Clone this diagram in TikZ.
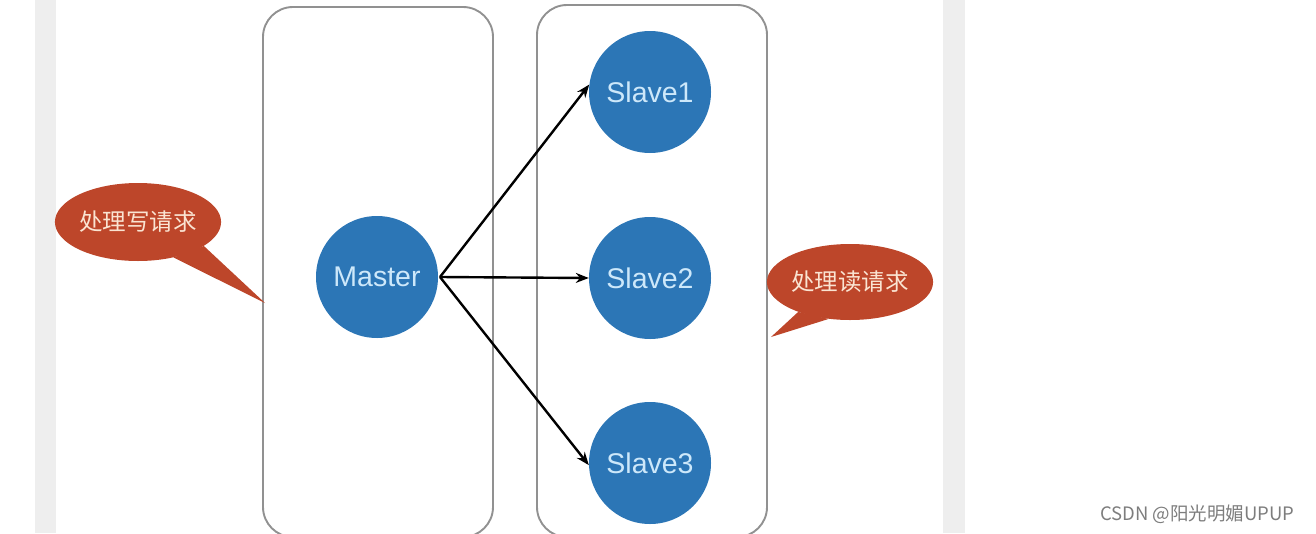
\documentclass[tikz,border=0pt]{standalone}
\usepackage{fontspec}
\setmainfont{Liberation Sans}
\newfontfamily\cjk{Noto Sans CJK SC}
\usetikzlibrary{shapes.geometric,arrows.meta}
\definecolor{nodeblue}{RGB}{44,118,182}
\definecolor{nodetext}{RGB}{205,232,250}
\definecolor{bubred}{RGB}{189,70,42}
\definecolor{bubtext}{RGB}{250,228,210}
\definecolor{bandgray}{RGB}{238,238,238}
\definecolor{boxgray}{RGB}{145,145,145}
\definecolor{markgray}{RGB}{125,125,125}
\tikzset{
  panel/.style={draw=boxgray, line width=1.9pt, rounded corners=30pt, fill=none},
  ball/.style={circle, fill=nodeblue, text=nodetext, minimum size=122pt, inner sep=0pt,
    font=\fontsize{28.5}{28.5}\selectfont},
  bubble/.style={ellipse, fill=bubred, text=bubtext, inner sep=0pt,
    font=\cjk\fontsize{23.5}{23.5}\selectfont},
  link/.style={draw=black, line width=2.4pt, -{Stealth[length=13pt,width=10pt]}},
}
\begin{document}
\begin{tikzpicture}[x=1pt,y=-1pt]
\useasboundingbox (0,0) rectangle (1316,533);
\fill[bandgray] (35,0) rectangle (56,533);
\fill[bandgray] (943,0) rectangle (965,533);

\draw[panel] (263,7) rectangle (493,537);
\draw[panel] (537,5) rectangle (767,537);

\node[ball] (m) at (377,277) {Master};
\node[ball] (s1) at (650,92) {Slave1};
\node[ball] (s2) at (650,278) {Slave2};
\node[ball] (s3) at (650,463) {Slave3};

\coordinate (src) at (440,277);
\draw[link] (src) -- (s1.173);
\draw[link] (src) -- (s2.west);
\draw[link] (src) -- (s3.182);

\node[bubble, minimum width=164pt, minimum height=78pt] (wb) at (138,222) {处理写请求};
\coordinate (wtip) at (265,303);
\fill[bubred] (wb.-20) -- (wtip) -- (wb.-45) -- cycle;

\node[bubble, minimum width=162pt, minimum height=76pt] (rb) at (850,282) {处理读请求};
\coordinate (rtip) at (771,337);
\fill[bubred] (rb.-150) -- (rtip) -- (rb.-120) -- cycle;

\node[anchor=west, text=markgray, font=\cjk\fontsize{18.5}{18.5}\selectfont, inner sep=0pt] (wm) at (1100,514) {CSDN @阳光明媚UPUP};
\end{tikzpicture}
\end{document}
